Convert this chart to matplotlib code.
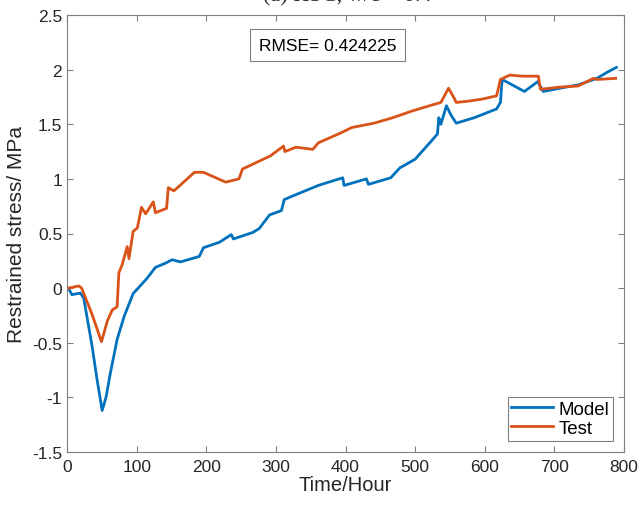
import matplotlib
matplotlib.use("Agg")
import matplotlib.pyplot as plt

# Model curve (time in hours, restrained stress in MPa)
model_t = [0, 2, 7, 19, 24, 36, 43, 50.5, 56, 62.5, 72, 82, 95, 115, 127, 142, 151,
           163, 190, 196, 219, 236, 239, 267, 276, 291, 308, 312, 319, 361, 396,
           398, 430, 433, 465, 478, 500, 521, 532, 534, 537, 545, 551, 559, 585,
           617, 622.5, 625, 657, 676, 684, 708, 734, 761, 777, 789]
model_s = [0, 0, -0.06, -0.045, -0.09, -0.53, -0.83, -1.12, -1.0, -0.77, -0.47,
           -0.26, -0.05, 0.09, 0.19, 0.23, 0.26, 0.24, 0.29, 0.37, 0.42, 0.49,
           0.45, 0.51, 0.545, 0.67, 0.71, 0.81, 0.83, 0.94, 1.01, 0.94, 1.0, 0.95,
           1.01, 1.10, 1.18, 1.33, 1.41, 1.56, 1.50, 1.67, 1.59, 1.51, 1.56, 1.64,
           1.70, 1.91, 1.80, 1.89, 1.80, 1.83, 1.86, 1.92, 1.98, 2.02]

# Test curve
test_t = [0, 2, 9.6, 17, 21, 36, 49.5, 58, 65, 72, 74.5, 79, 86.5, 89, 95, 101,
          107, 113, 124, 127, 143, 145.5, 153.5, 164, 183, 196, 228, 247, 252,
          292, 311, 313, 329, 353, 361, 393, 409, 441, 468, 495, 521, 537, 548,
          556, 559, 575, 596, 617, 622.5, 636, 654, 677, 680, 708, 734, 756, 761,
          788]
test_s = [0, 0, 0.01, 0.02, 0, -0.24, -0.49, -0.30, -0.2, -0.17, 0.14, 0.21, 0.38,
          0.27, 0.52, 0.55, 0.74, 0.68, 0.79, 0.69, 0.73, 0.92, 0.89, 0.95, 1.06,
          1.06, 0.97, 1.0, 1.09, 1.21, 1.30, 1.25, 1.29, 1.27, 1.33, 1.42, 1.47,
          1.51, 1.56, 1.62, 1.67, 1.70, 1.83, 1.74, 1.70, 1.71, 1.73, 1.76, 1.91,
          1.95, 1.94, 1.94, 1.82, 1.84, 1.85, 1.92, 1.91, 1.92]

x_ticks = [0, 100, 200, 300, 400, 500, 600, 700, 800]
y_ticks = [-1.5, -1, -0.5, 0, 0.5, 1, 1.5, 2, 2.5]
y_labels = ["-1.5", "-1", "-0.5", "0", "0.5", "1", "1.5", "2", "2.5"]

plt.rcParams['font.family'] = ['Liberation Sans', 'DejaVu Sans']

fig = plt.figure(figsize=(6.4, 5.06), dpi=100)
ax = fig.add_axes([67 / 640, 1 - 453 / 506, 557 / 640, 437 / 506])

ax.plot(model_t, model_s, color='#0072BD', lw=2.0, label='Model')
ax.plot(test_t, test_s, color='#D95319', lw=2.0, label='Test')

ax.set_xlim(0, 800)
ax.set_ylim(-1.5, 2.5)
ax.set_xticks(x_ticks)
ax.set_yticks(y_ticks)
ax.set_yticklabels(y_labels)
ax.tick_params(direction='in', top=True, right=True, length=4, width=0.8,
               color='#808080', labelcolor='#262626', labelsize=12.5)
ax.tick_params(axis='x', pad=5)
for sp in ax.spines.values():
    sp.set_color('#808080')
    sp.set_linewidth(0.8)

ax.set_xlabel('Time/Hour', fontsize=14.5, color='#262626', labelpad=1)
ax.set_ylabel('Restrained stress/ MPa', fontsize=15, color='#262626', labelpad=4)

ax.text(0.468, 0.931, 'RMSE= 0.424225', transform=ax.transAxes, ha='center',
        va='center', fontsize=12.5, color='black',
        bbox=dict(boxstyle='square,pad=0.5', fc='white', ec='#808080', lw=0.8))

leg = ax.legend(loc='lower right', fontsize=13.5, fancybox=False, framealpha=1,
                edgecolor='#808080', borderpad=0.2, handlelength=2.2,
                handletextpad=0.3, labelspacing=0.1, borderaxespad=0.6)
leg.get_frame().set_linewidth(0.8)

# title partly cut off at the top edge, as in the source figure
fig.text(347 / 640, 1 + 3 / 506, '(a) HSC, w/c = 0.4', ha='center', va='center',
         fontsize=16, family=['Liberation Serif', 'DejaVu Serif'], color='#262626')

fig.savefig('out.png', dpi=100)
